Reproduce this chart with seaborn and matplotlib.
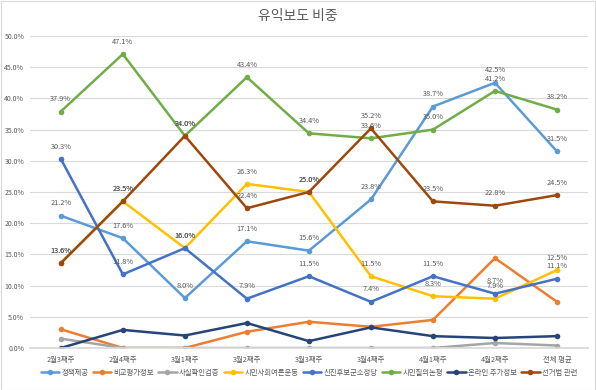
import pandas as pd
import matplotlib
matplotlib.use('Agg')
import matplotlib.pyplot as plt
import seaborn as sns
from matplotlib.ticker import FuncFormatter

# categories and series (percent)
weeks = ['2월3째주', '2월4째주', '3월1째주', '3월2째주', '3월3째주', '3월4째주', '4월1째주', '4월2째주', '전체 평균']
series_names = ['정책제공', '비교평가정보', '사실확인검증', '시민사회여론운동',
                '신진후보군소정당', '시민질의논평', '온라인 추가정보', '선거법 관련']
policy = [21.2, 17.6, 8.0, 17.1, 15.6, 23.8, 38.7, 42.5, 31.5]
compare = [3.0, 0.0, 0.0, 2.6, 4.2, 3.4, 4.5, 14.4, 7.4]
factcheck = [1.5, 0.0, 0.0, 0.0, 0.0, 0.0, 0.0, 0.8, 0.4]
civic = [13.6, 23.5, 16.0, 26.3, 25.0, 11.5, 8.3, 7.9, 12.5]
newcand = [30.3, 11.8, 16.0, 7.9, 11.5, 7.4, 11.5, 8.7, 11.1]
citizenq = [37.9, 47.1, 34.0, 43.4, 34.4, 33.6, 35.0, 41.2, 38.2]
online = [0.0, 2.9, 2.0, 4.0, 1.1, 3.3, 1.9, 1.6, 1.9]
elaw = [13.6, 23.5, 34.0, 22.4, 25.0, 35.2, 23.5, 22.8, 24.5]

values = [policy, compare, factcheck, civic, newcand, citizenq, online, elaw]
colors = ['#5B9BD5', '#ED7D31', '#A5A5A5', '#FFC000', '#4472C4', '#70AD47', '#264478', '#9E480E']
# which series get data labels
labelled = {'정책제공', '시민사회여론운동', '신진후보군소정당', '시민질의논평', '선거법 관련'}

rows = []
for name, vals in zip(series_names, values):
    for i, v in enumerate(vals):
        rows.append({'week': i, 'series': name, 'value': v})
df = pd.DataFrame(rows)

sns.set_theme(style='white')
plt.rcParams['font.family'] = ['Noto Sans CJK KR', 'DejaVu Sans']

fig = plt.figure(figsize=(5.96, 3.9), dpi=100)
ax = fig.add_axes([0.050, 0.1077, 0.9366, 0.80])

sns.lineplot(data=df, x='week', y='value', hue='series', hue_order=series_names,
             palette=colors, marker='o', markersize=4, markeredgewidth=0,
             linewidth=1.8, ax=ax, legend=True)

for name, vals, c in zip(series_names, values, colors):
    if name not in labelled:
        continue
    for i, v in enumerate(vals):
        ax.annotate(f'{v:.1f}%', (i, v), xytext=(0, 6), textcoords='offset points',
                    ha='center', va='bottom', fontsize=5.3, color='#595959')

ax.set_xlim(-0.5, len(weeks) - 0.5)
ax.set_ylim(0, 50)
ax.set_yticks(range(0, 51, 5))
ax.yaxis.set_major_formatter(FuncFormatter(lambda v, p: f'{v:.1f}%'))
ax.set_xticks(range(len(weeks)))
ax.set_xticklabels(weeks)
ax.tick_params(axis='x', labelsize=5.3, colors='#595959', length=0, pad=6)
ax.tick_params(axis='y', labelsize=5.0, colors='#595959', length=0, pad=4)
ax.grid(axis='y', color='#D9D9D9', linewidth=0.8)
ax.set_axisbelow(True)
for s in ['top', 'right', 'left']:
    ax.spines[s].set_visible(False)
ax.spines['bottom'].set_color('#D9D9D9')
ax.set_xlabel('')
ax.set_ylabel('')

fig.text(0.5, 0.96, '유익보도 비중', ha='center', va='center', fontsize=10, color='#595959')

handles, labels = ax.get_legend_handles_labels()
ax.legend(handles, labels, loc='center', bbox_to_anchor=(0.5, -0.08), ncol=8,
          frameon=False, fontsize=5.3, handlelength=2.5, columnspacing=0.6,
          handletextpad=0.3, labelcolor='#595959')

border = plt.Rectangle((0.001, 0.001), 0.997, 0.997, transform=fig.transFigure,
                       fill=False, edgecolor='#D9D9D9', linewidth=0.8)
fig.patches.append(border)

fig.savefig('out.png', dpi=100)
